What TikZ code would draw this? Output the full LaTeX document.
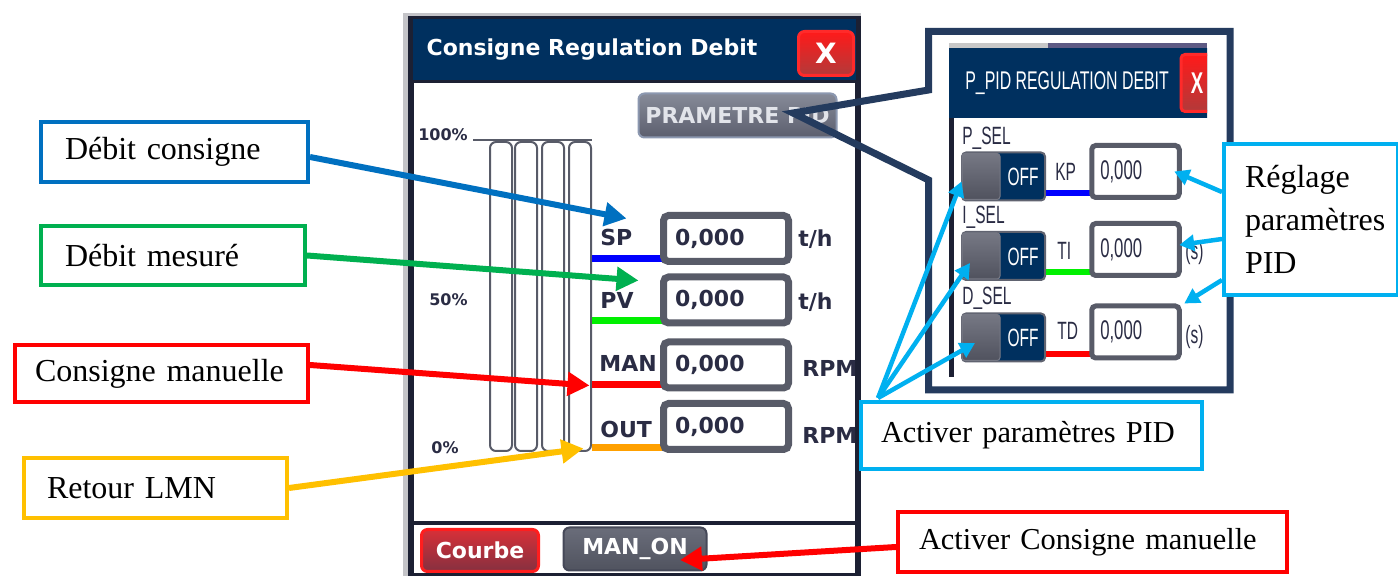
\documentclass[tikz,border=0pt]{standalone}
\usepackage{fontspec}
\setmainfont{Liberation Serif}
\newfontfamily\hmifont{DejaVu Sans}
\newfontfamily\pidfont[FakeStretch=0.62]{Liberation Sans}
\usetikzlibrary{arrows.meta}

\definecolor{navy}{HTML}{00305F}
\definecolor{frameDark}{HTML}{1C2033}
\definecolor{chromeGray}{HTML}{C4C4C8}
\definecolor{boxGray}{HTML}{585B68}
\definecolor{labelInk}{HTML}{2A2C44}
\definecolor{btnTop}{HTML}{868A98}
\definecolor{btnBot}{HTML}{5C5F6E}
\definecolor{pidBtnEdge}{HTML}{8C98B0}
\definecolor{btnInk}{HTML}{E2E4EA}
\definecolor{closeTop}{HTML}{FF1A1A}
\definecolor{closeBot}{HTML}{B23A3A}
\definecolor{closeEdge}{HTML}{FF2A2A}
\definecolor{courbeTop}{HTML}{D83038}
\definecolor{courbeBot}{HTML}{853040}
\definecolor{courbeEdge}{HTML}{FF1E1E}
\definecolor{manTop}{HTML}{6A6D7A}
\definecolor{manBot}{HTML}{50535F}
\definecolor{manEdge}{HTML}{454858}
\definecolor{knobTop}{HTML}{767884}
\definecolor{knobBot}{HTML}{50525E}
\definecolor{stripGray}{HTML}{C8C8C8}
\definecolor{stripPurple}{HTML}{5E5A84}
\definecolor{pidFrame}{HTML}{243B5E}
\definecolor{calBlue}{HTML}{0070C0}
\definecolor{calGreen}{HTML}{00B050}
\definecolor{calRed}{HTML}{FF0000}
\definecolor{calYellow}{HTML}{FFC000}
\definecolor{calCyan}{HTML}{00B0F0}
\definecolor{lineBlue}{HTML}{0000FF}
\definecolor{lineGreen}{HTML}{00F000}
\definecolor{lineRed}{HTML}{FF0000}
\definecolor{lineOrange}{HTML}{FFA000}

\begin{document}
\begin{tikzpicture}[x=0.5pt, y=-0.5pt,
  callout/.style={draw, line width=2pt, fill=white, align=left, inner ysep=0pt, font=\fontsize{16}{21.3}\selectfont},
  hmi/.style={inner sep=0pt, text=labelInk, font=\hmifont\bfseries\fontsize{11}{13}\selectfont},
  tick/.style={hmi, font=\hmifont\bfseries\fontsize{8}{9}\selectfont},
  valbox/.style={hmi, draw=boxGray, line width=3.5pt, fill=white, rounded corners=2.5pt, minimum width=62.5pt, minimum height=23pt, text width=51pt, inner xsep=5.75pt, align=left},
  hmibtn/.style={hmi, rounded corners=3pt, line width=1pt, text=white},
  bar/.style={draw=boxGray, line width=1pt, rounded corners=3pt, minimum width=11pt, minimum height=154.5pt, inner sep=0pt},
  pid/.style={inner sep=0pt, text=labelInk, font=\pidfont\fontsize{12.5}{14}\selectfont},
  pidval/.style={pid, draw=boxGray, line width=2.5pt, fill=white, rounded corners=2pt, minimum width=40pt, minimum height=26pt, text width=35.25pt, inner xsep=4.25pt, align=left, font=\pidfont\fontsize{13.5}{15}\selectfont},
  toggle/.style={draw=frameDark!70, line width=1pt, fill=navy, rounded corners=2pt, minimum width=41.5pt, minimum height=24pt, inner sep=0pt},
  knob/.style={draw=frameDark!60, line width=0.5pt, top color=knobTop, bottom color=knobBot, rounded corners=1.5pt, minimum width=19pt, minimum height=23pt, inner sep=0pt},
  callarrow/.style={line width=3pt, -{Triangle[length=11pt,width=11.5pt]}},
  pidarrow/.style={line width=2.25pt, -{Triangle[length=7.5pt,width=8pt]}}]
\fill[white] (0,0) rectangle (1398,576);
\useasboundingbox (0,0) rectangle (1398,576);

% main window
\fill[chromeGray] (403,13) rectangle (861,576);
\fill[frameDark] (408,16) rectangle (861,576);
\fill[navy] (413,19) rectangle (856,80);
\fill[white] (414,83) rectangle (855,521);
\fill[white] (414,525) rectangle (855,573);
\node[hmi, text=white] (wtitle) at (592,50) {Consigne Regulation Debit};
\node[hmibtn, draw=closeEdge, line width=1.5pt, top color=closeTop, bottom color=closeBot, minimum width=27.5pt, minimum height=22pt, font=\hmifont\bfseries\fontsize{14}{16}\selectfont] (wclose) at (826,53.5) {X};
\node[hmibtn, draw=pidBtnEdge, top color=btnTop, bottom color=btnBot, minimum width=99pt, minimum height=22pt, text=btnInk] (btnpid) at (737.5,115.5) {PRAMETRE PID};

% bargraph
\draw[boxGray, line width=1pt] (473,140) -- (592,140);
\node[tick] (p100) at (443,135) {100\%};
\node[tick] (p50) at (448.5,300) {50\%};
\node[tick] (p0) at (445,448) {0\%};
\node[bar] (bar1) at (501,296.5) {};
\node[bar] (bar2) at (526,296.5) {};
\node[bar] (bar3) at (553,296.5) {};
\node[bar] (bar4) at (580,296.5) {};

% rows
\coordinate (spY) at (0,258.5);
\coordinate (pvY) at (0,321);
\coordinate (manY) at (0,385);
\coordinate (outY) at (0,447.5);
\draw[lineBlue, line width=3.5pt] (bar4.east |- spY) -- (664,258.5);
\draw[lineGreen, line width=3.5pt] (bar4.east |- pvY) -- (664,321);
\draw[lineRed, line width=3.5pt] (bar4.east |- manY) -- (664,385);
\draw[lineOrange, line width=3.5pt] (bar4.east |- outY) -- (664,447.5);
\node[valbox] (valsp) at (726,238.5) {0,000};
\node[valbox] (valpv) at (726,300) {0,000};
\node[valbox] (valman) at (726,365) {0,000};
\node[valbox] (valout) at (726,426.5) {0,000};
\node[hmi, anchor=west] (lblsp) at (600,237) {SP};
\node[hmi, anchor=west] (lblpv) at (600,300) {PV};
\node[hmi, anchor=west] (lblman) at (599,363) {MAN};
\node[hmi, anchor=west] (lblout) at (600,429) {OUT};
\node[hmi, anchor=west] (unitsp) at (798,239) {t/h};
\node[hmi, anchor=west] (unitpv) at (798,302) {t/h};
\node[hmi, anchor=west] (unitman) at (802,368) {RPM};
\node[hmi, anchor=west] (unitout) at (802,435) {RPM};

% bottom buttons
\node[hmibtn, draw=courbeEdge, line width=1.5pt, top color=courbeTop, bottom color=courbeBot, minimum width=58.5pt, minimum height=21pt] (btncourbe) at (480,550.5) {Courbe};
\node[hmibtn, draw=manEdge, top color=manTop, bottom color=manBot, minimum width=71.5pt, minimum height=21.5pt] (btnman) at (635,549) {MAN\_ON};

% PID callout frame
\coordinate (apex) at ([xshift=27.75pt,yshift=1.25pt]btnpid.center);
\draw[pidFrame, line width=3.5pt] (928.5,90) -- (928.5,31.5) -- (1230,31.5) -- (1230,390) -- (928.5,390) -- (928.5,180) -- (apex) -- cycle;

% PID window
\begin{scope}
\clip (949,43) rectangle (1207,380);
\fill[stripGray] (949,43) rectangle (1048,48);
\fill[stripPurple] (1048,43) rectangle (1207,48);
\fill[navy] (949,48) rectangle (1210,118);
\fill[frameDark] (949,118) rectangle (954,377);
\node[pid, text=white, anchor=west, font=\pidfont\fontsize{12.8}{14}\selectfont] (pidtitle) at (965,83) {P\_PID REGULATION DEBIT};
\node[pid, draw=closeEdge, line width=1.5pt, top color=closeTop, bottom color=closeBot, rounded corners=2pt, minimum width=16pt, minimum height=28.5pt, anchor=west, text=white, font=\pidfont\bfseries\fontsize{15}{17}\selectfont] (pidclose) at (1179.5,83) {X};

\coordinate (kpY) at (0,193);
\coordinate (tiY) at (0,272);
\coordinate (tdY) at (0,354.5);

\node[pid, anchor=west] (psel) at (962,138) {P\_SEL};
\node[toggle] (ptog) at (1003.5,176.5) {};
\node[knob] (pknob) at (981,176.5) {};
\node[pid, text=white] (poff) at (1023,177) {OFF};
\node[pid, anchor=west] (kp) at (1055,172) {KP};
\draw[lineBlue, line width=3pt] (ptog.east |- kpY) -- (1096,193);
\node[pidval] (valkp) at (1135.5,171.5) {0,000};

\node[pid, anchor=west] (isel) at (962,217) {I\_SEL};
\node[toggle] (itog) at (1003.5,256) {};
\node[knob] (iknob) at (981,256) {};
\node[pid, text=white] (ioff) at (1023,256.5) {OFF};
\node[pid, anchor=west] (ti) at (1057,251) {TI};
\draw[lineGreen, line width=3pt] (itog.east |- tiY) -- (1096,272);
\node[pidval] (valti) at (1135.5,249.5) {0,000};
\node[pid, anchor=west] (sti) at (1185,253) {(s)};

\node[pid, anchor=west] (dsel) at (962,298) {D\_SEL};
\node[toggle] (dtog) at (1003.5,337.5) {};
\node[knob] (dknob) at (981,337.5) {};
\node[pid, text=white] (doff) at (1023,338) {OFF};
\node[pid, anchor=west] (td) at (1057,331) {TD};
\draw[lineRed, line width=3pt] (dtog.east |- tdY) -- (1096,354.5);
\node[pidval] (valtd) at (1135.5,332) {0,000};
\node[pid, anchor=west] (std) at (1185,337) {(s)};
\end{scope}

% callouts
\node[callout, draw=calBlue, text width=109.5pt, inner xsep=12pt, minimum height=30pt, anchor=north west] (dcons) at (39,120) {Débit consigne};
\node[callout, draw=calGreen, text width=108pt, inner xsep=12pt, minimum height=29.5pt, anchor=north west] (dmes) at (39,224) {Débit mesuré};
\node[callout, draw=calRed, text width=126.5pt, inner xsep=10pt, minimum height=28.5pt, anchor=north west] (cman) at (13,343) {Consigne manuelle};
\node[callout, draw=calYellow, text width=108.5pt, inner xsep=11.5pt, minimum height=30pt, anchor=north west] (retour) at (22,456) {Retour LMN};
\node[callout, draw=calCyan, text width=66pt, inner xsep=10.5pt, minimum height=75.5pt, anchor=north west] (reglage) at (1222,142) {Réglage\\paramètres\\PID};
\node[callout, draw=calCyan, text width=150.5pt, inner xsep=10pt, minimum height=33.5pt, anchor=north west, font=\fontsize{15.2}{18}\selectfont] (actpid) at (859,400) {Activer paramètres PID};
\node[callout, draw=calRed, text width=173.5pt, inner xsep=10.5pt, minimum height=30pt, anchor=north west, font=\fontsize{15.2}{18}\selectfont] (actman) at (896,510) {Activer Consigne manuelle};

% arrows
\draw[callarrow, calBlue] ([yshift=-2.5pt]dcons.east) -- ([xshift=-16.75pt,yshift=-3.25pt]valsp.north west);
\draw[callarrow, calGreen] (dmes.east) -- ([xshift=-10.75pt,yshift=-3.5pt]valpv.north west);
\draw[callarrow, calRed] ([yshift=4.25pt]cman.east) -- ([xshift=-35.25pt,yshift=3pt]valman.south west);
\draw[callarrow, calYellow] (retour.east) -- ([xshift=-38.25pt,yshift=2.25pt]valout.south west);
\draw[callarrow, calRed] ([yshift=-2.5pt]actman.west) -- ([xshift=22.5pt,yshift=-5.5pt]btnman.center);
\draw[pidarrow, calCyan] ([yshift=13.75pt]reglage.west) -- ([xshift=-3.75pt]valkp.east);
\draw[pidarrow, calCyan] ([yshift=-9.75pt]reglage.west) -- ([xshift=-1.25pt,yshift=2.25pt]valti.east);
\draw[pidarrow, calCyan] ([yshift=-30.25pt]reglage.west) -- ([xshift=1.25pt]valtd.north east);
\coordinate (actroot) at ([xshift=9.5pt,yshift=1pt]actpid.north west);
\draw[pidarrow, calCyan] (actroot) -- ([yshift=-2.5pt]pknob.west);
\draw[pidarrow, calCyan] (actroot) -- ([xshift=-5.5pt,yshift=-3.5pt]iknob.center);
\draw[pidarrow, calCyan] (actroot) -- ([xshift=-3pt,yshift=-2.75pt]dknob.center);
\end{tikzpicture}
\end{document}
